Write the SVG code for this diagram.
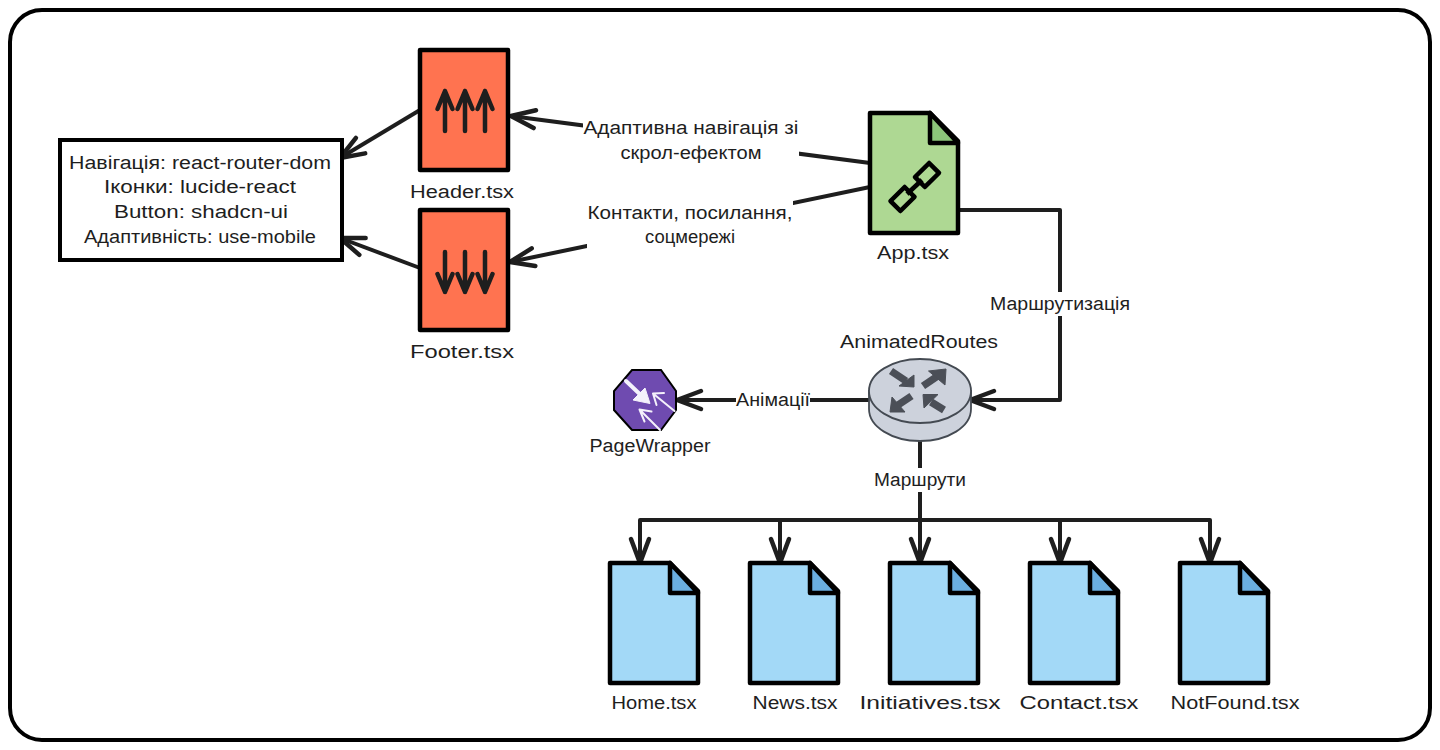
<svg xmlns="http://www.w3.org/2000/svg" width="1440" height="750" viewBox="0 0 1440 750">
<style>
text{font-family:"Liberation Sans","DejaVu Sans",sans-serif;font-size:18px;fill:#1e1e1e;text-anchor:middle;dominant-baseline:central}
.con{fill:none;stroke:#1e1e1e;stroke-width:4;stroke-linejoin:round}
.node{stroke:#000;stroke-width:4.5;stroke-linejoin:round}
.ico{fill:none;stroke:#1e1e1e;stroke-width:4.5;stroke-linecap:round;stroke-linejoin:round}
.bg{fill:#fff;stroke:none}
.rs{fill:none;stroke:#4b4f57;stroke-width:7.5}
.rh{fill:#4b4f57;stroke:#4b4f57;stroke-width:1;stroke-linejoin:round}
.wa{fill:none;stroke:#f4f1fb;stroke-linecap:round;stroke-linejoin:round}
</style>
<defs>
<marker id="arr" markerUnits="userSpaceOnUse" markerWidth="40" markerHeight="40" refX="32" refY="20" orient="auto" overflow="visible">
<path d="M8,11 L32,20 L8,29" fill="none" stroke="#1e1e1e" stroke-width="4.5" stroke-linecap="round" stroke-linejoin="round"/>
</marker>
<path id="page" d="M0,0 H60 L88,28 V120 H0 Z"/>
<path id="fold" d="M60,0 V30 H88 Z"/>
<path id="up" d="M0,40 V0 M-7.5,18 L0,0 L7.5,18"/>
</defs>
<rect x="10" y="10" width="1420" height="730" rx="32" fill="#fff" stroke="#000" stroke-width="4"/>
<g id="connectors">
<path class="con" marker-end="url(#arr)" d="M420,110 L340,158"/>
<path class="con" marker-end="url(#arr)" d="M420,268 L340,238"/>
<path class="con" marker-end="url(#arr)" d="M870,163 L511,116"/>
<path class="con" marker-end="url(#arr)" d="M870,187 L510,262"/>
<path class="con" marker-end="url(#arr)" d="M958,210 H1060 V400 H970"/>
<path class="con" marker-end="url(#arr)" d="M870,400 H677"/>
<path class="con" d="M920,440 V520"/>
<path class="con" marker-end="url(#arr)" d="M920,520 H640 V563"/>
<path class="con" marker-end="url(#arr)" d="M780,520 V563"/>
<path class="con" marker-end="url(#arr)" d="M920,520 V563"/>
<path class="con" marker-end="url(#arr)" d="M1060,520 V563"/>
<path class="con" marker-end="url(#arr)" d="M920,520 H1210 V563"/>
</g>
<g id="labels">
<rect class="bg" x="583" y="116" width="216" height="48"/>
<text x="691" y="128" textLength="215" lengthAdjust="spacingAndGlyphs">Адаптивна навігація зі</text>
<text x="691" y="153" textLength="141" lengthAdjust="spacingAndGlyphs">скрол-ефектом</text>
<rect class="bg" x="587" y="201" width="206" height="48"/>
<text x="690" y="213" textLength="205" lengthAdjust="spacingAndGlyphs">Контакти, посилання,</text>
<text x="690" y="237" textLength="90" lengthAdjust="spacingAndGlyphs">соцмережі</text>
<rect class="bg" x="990" y="292" width="140" height="24"/>
<text x="1060" y="304" textLength="140" lengthAdjust="spacingAndGlyphs">Маршрутизація</text>
<rect class="bg" x="736" y="390" width="74" height="20"/>
<text x="773" y="400" textLength="74" lengthAdjust="spacingAndGlyphs">Анімації</text>
<rect class="bg" x="874" y="468" width="92" height="24"/>
<text x="920" y="480" textLength="92" lengthAdjust="spacingAndGlyphs">Маршрути</text>
</g>
<g id="libs">
<rect x="60" y="140" width="282" height="120" fill="#fff" stroke="#000" stroke-width="4"/>
<text x="200" y="163" textLength="262" lengthAdjust="spacingAndGlyphs">Навігація: react-router-dom</text>
<text x="200" y="187" textLength="192" lengthAdjust="spacingAndGlyphs">Іконки: lucide-react</text>
<text x="201" y="212" textLength="174" lengthAdjust="spacingAndGlyphs">Button: shadcn-ui</text>
<text x="200" y="237" textLength="232" lengthAdjust="spacingAndGlyphs">Адаптивність: use-mobile</text>
</g>
<g id="header">
<rect class="node" x="420" y="50" width="88" height="120" fill="#ff7350"/>
<use href="#up" class="ico" x="445" y="91"/><use href="#up" class="ico" x="465" y="91"/><use href="#up" class="ico" x="485" y="91"/>
<text x="462" y="192" textLength="104" lengthAdjust="spacingAndGlyphs">Header.tsx</text>
</g>
<g id="footer">
<rect class="node" x="420" y="210" width="88" height="120" fill="#ff7350"/>
<use href="#up" class="ico" transform="translate(445,292) scale(1,-1)"/><use href="#up" class="ico" transform="translate(465,292) scale(1,-1)"/><use href="#up" class="ico" transform="translate(485,292) scale(1,-1)"/>
<text x="462" y="352" textLength="104" lengthAdjust="spacingAndGlyphs">Footer.tsx</text>
</g>
<g id="app">
<use href="#page" class="node" x="870" y="113" fill="#aed893"/>
<use href="#fold" class="node" x="870" y="113" fill="#8cc67a"/>
<g fill="none" stroke="#000" stroke-width="4.5" stroke-linejoin="round">
<rect x="-10" y="-7" width="20" height="14" transform="translate(902.5,199) rotate(-45)"/>
<rect x="-10" y="-7" width="20" height="14" transform="translate(927,175) rotate(-45)"/>
<path d="M907,194 L922,180"/>
</g>
<text x="913" y="253" textLength="72" lengthAdjust="spacingAndGlyphs">App.tsx</text>
</g>
<g id="animated-routes">
<path d="M869,391 V409 A51,32 0 0 0 971,409 V391 Z" fill="#cdd2dc" stroke="#444a52" stroke-width="1.8"/>
<ellipse cx="920" cy="391" rx="51" ry="32" fill="#cdd2dc" stroke="#444a52" stroke-width="1.8"/>
<path class="rs" d="M891,371 L906,381"/><path class="rh" d="M914,387 L914,375 L899,386 Z"/>
<path class="rs" d="M923,386 L937,376.500"/><path class="rh" d="M946,369 L928.500,371 L945,385 Z"/>
<path class="rs" d="M911.500,396 L898,405"/><path class="rh" d="M890,412 L892,397 L905,412 Z"/>
<path class="rs" d="M944,410 L931,402"/><path class="rh" d="M923,394.500 L938,394.500 L924,408 Z"/>
<text x="919" y="342" textLength="158" lengthAdjust="spacingAndGlyphs">AnimatedRoutes</text>
</g>
<g id="page-wrapper">
<path d="M632,370 H661 L676,391 V410 L661,430 H632 L614,410 V391 Z" fill="#6f4bb0" stroke="#000" stroke-width="2"/>
<path class="wa" stroke-width="4" d="M626,381 L646,400"/>
<path d="M650,403.500 L633,400 L645,388 Z" fill="#f4f1fb" stroke="#f4f1fb" stroke-linejoin="round"/>
<path class="wa" stroke-width="2" d="M674.500,411 L653,393.500 M664,393 L653,393.500 L656.500,405"/>
<path class="wa" stroke-width="2" d="M660,430 L639.500,409.500 M651.500,411.500 L639.500,409.500 L644.500,421.500"/>
<text x="650" y="446" textLength="121" lengthAdjust="spacingAndGlyphs">PageWrapper</text>
</g>
<g id="home">
<use href="#page" class="node" x="610" y="563" fill="#a3d9f7"/><use href="#fold" class="node" x="610" y="563" fill="#6aaee0"/>
<text x="654" y="703" textLength="85" lengthAdjust="spacingAndGlyphs">Home.tsx</text>
</g>
<g id="news">
<use href="#page" class="node" x="750" y="563" fill="#a3d9f7"/><use href="#fold" class="node" x="750" y="563" fill="#6aaee0"/>
<text x="795" y="703" textLength="85" lengthAdjust="spacingAndGlyphs">News.tsx</text>
</g>
<g id="initiatives">
<use href="#page" class="node" x="890" y="563" fill="#a3d9f7"/><use href="#fold" class="node" x="890" y="563" fill="#6aaee0"/>
<text x="930" y="703" textLength="141" lengthAdjust="spacingAndGlyphs">Initiatives.tsx</text>
</g>
<g id="contact">
<use href="#page" class="node" x="1030" y="563" fill="#a3d9f7"/><use href="#fold" class="node" x="1030" y="563" fill="#6aaee0"/>
<text x="1079" y="703" textLength="119" lengthAdjust="spacingAndGlyphs">Contact.tsx</text>
</g>
<g id="notfound">
<use href="#page" class="node" x="1180" y="563" fill="#a3d9f7"/><use href="#fold" class="node" x="1180" y="563" fill="#6aaee0"/>
<text x="1235" y="703" textLength="129" lengthAdjust="spacingAndGlyphs">NotFound.tsx</text>
</g>
</svg>
